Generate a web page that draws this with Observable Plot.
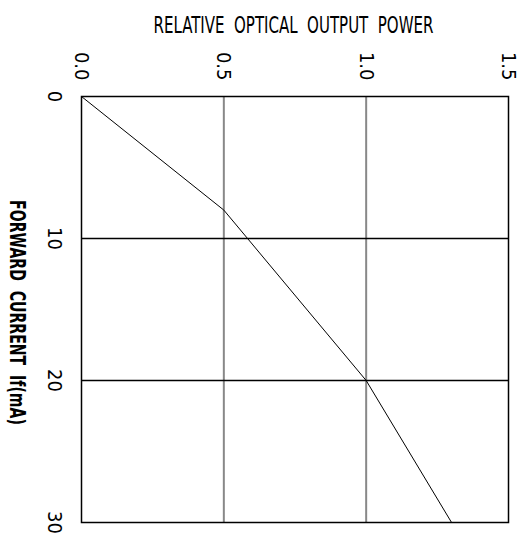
<!DOCTYPE html>
<html>
<head>
<meta charset="utf-8">
<script src="https://cdn.jsdelivr.net/npm/d3@7"></script>
<script src="https://cdn.jsdelivr.net/npm/@observablehq/plot@0.6"></script>
<style>
  html, body { margin: 0; padding: 0; background: #fff; }
  svg { display: block; }
  svg text { font-stretch: condensed; }
</style>
</head>
<body>
<div id="chart"></div>
<script>
const currentMA = [0, 8, 20, 30];
const relPower = [0, 0.5, 1.0, 1.3];
const powerTicks = [0, 0.5, 1.0, 1.5];
const powerTickLabels = ["0.0", "0.5", "1.0", "1.5"];
const currentTicks = [0, 10, 20, 30];
const currentTickLabels = ["0", "10", "20", "30"];
const titleText = "RELATIVE  OPTICAL  OUTPUT  POWER";
const yLabelText = "FORWARD  CURRENT  If(mA)";

const data = currentMA.map((c, i) => ({current: c, power: relPower[i]}));
const font = "'DejaVu Sans Condensed', 'DejaVu Sans', sans-serif";

const chart = Plot.plot({
  width: 529,
  height: 550,
  marginLeft: 81,
  marginRight: 21,
  marginTop: 96,
  marginBottom: 28,
  style: {fontFamily: font, background: "#fff", color: "#000"},
  x: {domain: [0, 1.5], axis: null},
  y: {domain: [0, 30], reverse: true, axis: null},
  marks: [
    Plot.ruleX([0.5, 1.0], {stroke: "#888", strokeWidth: 2}),
    Plot.ruleY([10, 20], {stroke: "#000", strokeWidth: 1.3}),
    Plot.frame({stroke: "#000", strokeWidth: 1.5}),
    Plot.line(data, {x: "power", y: "current", stroke: "#000", strokeWidth: 1}),
    Plot.text(powerTicks, {
      x: d => d, frameAnchor: "top", dy: -16, rotate: 90,
      text: (d, i) => powerTickLabels[i], textAnchor: "end", lineAnchor: "middle",
      fontSize: 20, fill: "#000"
    }),
    Plot.text(currentTicks, {
      y: d => d, frameAnchor: "left", dx: -27, rotate: 90,
      text: (d, i) => currentTickLabels[i], textAnchor: "middle", lineAnchor: "middle",
      fontSize: 20, fill: "#000"
    }),
    Plot.text([titleText], {
      frameAnchor: "top", dx: -1.5, dy: -71, text: d => d,
      textAnchor: "middle", lineAnchor: "middle", fontSize: 22.5, fill: "#000"
    }),
    Plot.text([yLabelText], {
      frameAnchor: "left", dx: -65, dy: 3, rotate: 90, text: d => d,
      textAnchor: "middle", lineAnchor: "middle", fontSize: 21.5, fontWeight: 600, fill: "#000"
    })
  ]
});
document.getElementById("chart").appendChild(chart);
// condense the two long labels horizontally so their lengths match the reference
d3.select(chart).selectAll("text").each(function () {
  const t = this.textContent;
  const target = t === titleText ? 280 : t === yLabelText ? 225 : null;
  if (!target) return;
  const len = this.getComputedTextLength();
  if (!(len > 0)) return;
  const sx = Math.min(1, target / len);
  const tr = this.getAttribute("transform") || "";
  this.setAttribute("transform", (tr + ` scale(${sx.toFixed(4)},1)`).trim());
});
</script>
</body>
</html>
